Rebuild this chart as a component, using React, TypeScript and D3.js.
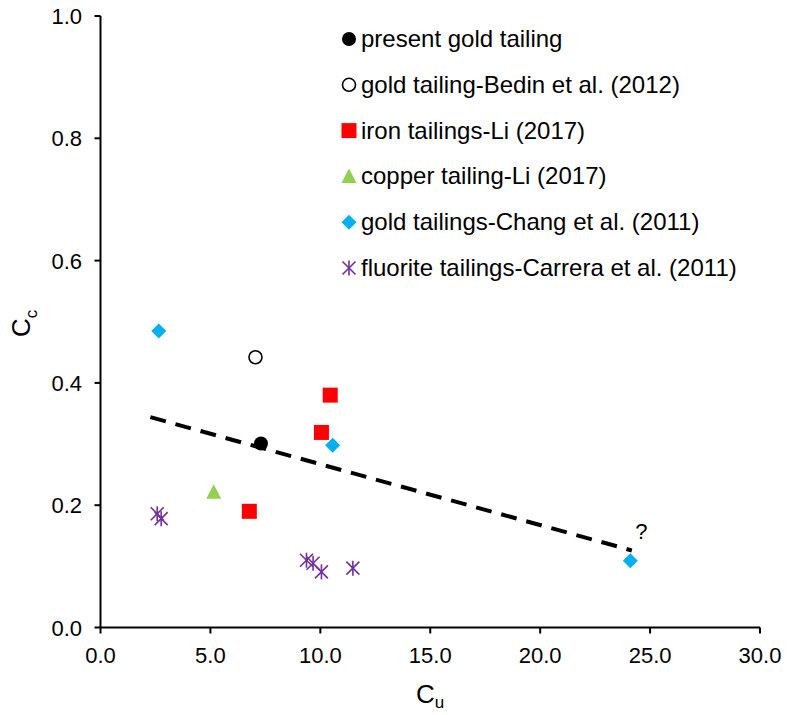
import React from "react";
import * as d3 from "d3";

const presentGold = [{ x: 7.3, y: 0.301 }];
const bedinGold = [{ x: 7.05, y: 0.442 }];
const ironLi = [
  { x: 10.45, y: 0.38 },
  { x: 10.05, y: 0.319 },
  { x: 6.77, y: 0.19 },
];
const copperLi = [{ x: 5.15, y: 0.221 }];
const changGold = [
  { x: 2.65, y: 0.485 },
  { x: 10.56, y: 0.298 },
  { x: 24.1, y: 0.109 },
];
const carreraFluorite = [
  { x: 2.58, y: 0.186 },
  { x: 2.76, y: 0.178 },
  { x: 9.37, y: 0.11 },
  { x: 9.67, y: 0.105 },
  { x: 10.05, y: 0.091 },
  { x: 11.48, y: 0.097 },
];
const trendX = [2.27, 24.17];
const trendY = [0.344, 0.126];
const xTicks = [0, 5, 10, 15, 20, 25, 30];
const yTicks = [0, 0.2, 0.4, 0.6, 0.8, 1.0];
const legendLabels = [
  "present gold tailing",
  "gold tailing-Bedin et al. (2012)",
  "iron tailings-Li (2017)",
  "copper tailing-Li (2017)",
  "gold tailings-Chang et al. (2011)",
  "fluorite tailings-Carrera et al. (2011)",
];

const FONT = "'Liberation Sans', Arial, sans-serif";

type Kind = "dot" | "ring" | "square" | "triangle" | "diamond" | "star";

function Marker({ kind, cx, cy }: { kind: Kind; cx: number; cy: number }) {
  switch (kind) {
    case "dot":
      return <circle cx={cx} cy={cy} r={7} fill="#000" />;
    case "ring":
      return <circle cx={cx} cy={cy} r={6.5} fill="#fff" stroke="#000" strokeWidth={1.6} />;
    case "square":
      return <rect x={cx - 7.5} y={cy - 7.5} width={15} height={15} fill="#FF0000" />;
    case "triangle":
      return (
        <path
          d={`M${cx},${cy - 8} L${cx + 7.5},${cy + 6.5} L${cx - 7.5},${cy + 6.5} Z`}
          fill="#92D050"
        />
      );
    case "diamond":
      return (
        <path
          d={`M${cx},${cy - 7.5} L${cx + 7.5},${cy} L${cx},${cy + 7.5} L${cx - 7.5},${cy} Z`}
          fill="#00B0F0"
        />
      );
    case "star": {
      const s = 6.5;
      return (
        <g stroke="#7030A0" strokeWidth={1.6}>
          <line x1={cx - s} y1={cy - s} x2={cx + s} y2={cy + s} />
          <line x1={cx - s} y1={cy + s} x2={cx + s} y2={cy - s} />
          <line x1={cx} y1={cy - s - 1} x2={cx} y2={cy + s + 1} />
        </g>
      );
    }
  }
}

export default function App() {
  const W = 788;
  const H = 715;
  const x = d3.scaleLinear().domain([0, 30]).range([100.5, 760]);
  const y = d3.scaleLinear().domain([0, 1]).range([627.5, 16]);

  const series: { data: { x: number; y: number }[]; kind: Kind }[] = [
    { data: carreraFluorite, kind: "star" },
    { data: copperLi, kind: "triangle" },
    { data: ironLi, kind: "square" },
    { data: bedinGold, kind: "ring" },
    { data: changGold, kind: "diamond" },
    { data: presentGold, kind: "dot" },
  ];
  const legendKinds: Kind[] = ["dot", "ring", "square", "triangle", "diamond", "star"];

  const trendPts = trendX.map((v, i) => [x(v), y(trendY[i])] as [number, number]);
  const line = d3.line();

  return (
    <svg
      width={W}
      height={H}
      style={{ position: "absolute", left: 0, top: 0, background: "#fff" }}
      fontFamily={FONT}
    >
      <rect width={W} height={H} fill="#fff" />
      {/* axes */}
      <line x1={x(0)} y1={y(0)} x2={x(30)} y2={y(0)} stroke="#000" strokeWidth={2} />
      <line x1={x(0)} y1={y(0)} x2={x(0)} y2={y(1)} stroke="#000" strokeWidth={2} />
      {xTicks.map((t) => (
        <g key={"xt" + t}>
          <line x1={x(t)} y1={y(0)} x2={x(t)} y2={y(0) + 6} stroke="#000" strokeWidth={2} />
          <text x={x(t)} y={663} textAnchor="middle" fontSize={22} fill="#000">
            {t.toFixed(1)}
          </text>
        </g>
      ))}
      {yTicks.map((t) => (
        <g key={"yt" + t}>
          <line x1={x(0) - 6} y1={y(t)} x2={x(0)} y2={y(t)} stroke="#000" strokeWidth={2} />
          <text x={82} y={y(t) + 8} textAnchor="end" fontSize={22} fill="#000">
            {t.toFixed(1)}
          </text>
        </g>
      ))}
      {/* axis titles */}
      <text x={416} y={702.5} fontSize={26} fill="#000">
        C<tspan fontSize={17} dy={5.5}>u</tspan>
      </text>
      <text transform="translate(30,337) rotate(-90)" fontSize={26} fill="#000">
        C<tspan fontSize={17} dy={7}>c</tspan>
      </text>

      {/* trend line */}
      <path
        d={line(trendPts) || ""}
        stroke="#000"
        strokeWidth={4}
        strokeDasharray="16 10"
        fill="none"
      />
      <text x={x(24.6)} y={y(0.157) + 8} textAnchor="middle" fontSize={22} fill="#000">
        ?
      </text>

      {/* points */}
      {series.map((s, si) => (
        <g key={"s" + si}>
          {s.data.map((d, i) => (
            <Marker key={i} kind={s.kind} cx={x(d.x)} cy={y(d.y)} />
          ))}
        </g>
      ))}

      {/* legend */}
      {legendLabels.map((lab, i) => {
        const cy = 39 + i * 45.8;
        return (
          <g key={"lg" + i}>
            <Marker kind={legendKinds[i]} cx={349} cy={cy} />
            <text x={361} y={cy + 8} fontSize={24} fill="#000">
              {lab}
            </text>
          </g>
        );
      })}
    </svg>
  );
}
